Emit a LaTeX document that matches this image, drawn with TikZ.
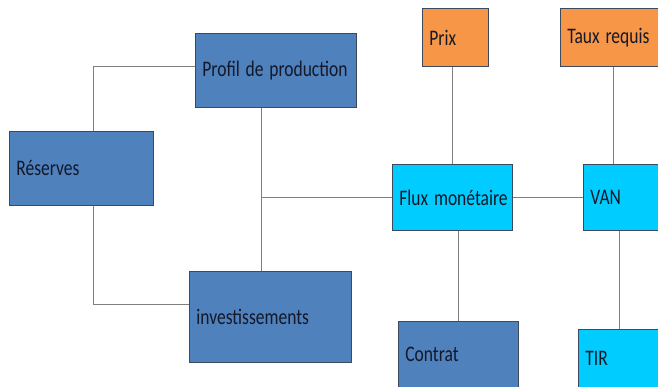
\documentclass[tikz,border=0pt]{standalone}
\usepackage{fontspec}
\setmainfont{Carlito}
\usepackage{graphicx}
\definecolor{bfill}{HTML}{4F81BD}
\definecolor{cfill}{HTML}{00CCFF}
\definecolor{ofill}{HTML}{F79646}
\definecolor{bord}{HTML}{3B4A5E}
\definecolor{linegray}{HTML}{808080}
\definecolor{txt}{HTML}{141828}
\newcommand{\stxt}[1]{\scalebox{1}[1.27]{#1}}
\begin{document}
\begin{tikzpicture}[x=1pt,y=-1pt,
  box/.style={rectangle, draw=bord, line width=0.8pt, anchor=north west, inner xsep=7pt, inner ysep=0pt, align=left, font=\fontsize{17.5}{20}\selectfont, text=txt},
  bluebox/.style={box, fill=bfill},
  cyanbox/.style={box, fill=cfill},
  orangebox/.style={box, fill=ofill},
  conn/.style={draw=linegray, line width=1pt}]
\useasboundingbox (0,0) rectangle (658,387);
\clip (0,0) rectangle (658,387);
\node[bluebox, text width=130pt, minimum height=74pt] (res) at (9,131) {\stxt{Réserves}};
\node[bluebox, text width=147pt, minimum height=74pt] (prof) at (195,33) {\stxt{Profil de production}};
\node[bluebox, text width=148pt, minimum height=91pt] (inv) at (189,271) {\stxt{investissements}};
\node[cyanbox, text width=106pt, minimum height=66pt] (flux) at (392,164) {\stxt{Flux monétaire}};
\node[cyanbox, text width=106pt, minimum height=66pt] (van) at (583,164) {\stxt{VAN}};
\node[orangebox, text width=52pt, minimum height=58pt] (prix) at (422,8) {\stxt{Prix}};
\node[orangebox, text width=106pt, minimum height=58pt] (taux) at (560,8) {\stxt{Taux requis}};
\node[bluebox, text width=106pt, minimum height=66pt] (contrat) at (398,321) {\stxt{Contrat}};
\node[cyanbox, text width=106pt, minimum height=58pt] (tir) at (578,329) {\stxt{TIR}};
\draw[conn] ([xshift=84pt]res.north west) |- ([yshift=4pt]prof.west);
\draw[conn] ([xshift=84pt]res.south west) |- ([yshift=12.5pt]inv.west);
\draw[conn] ([xshift=66pt]prof.south west) coordinate (pj) -- ([xshift=72pt]inv.north west);
\draw[conn] (flux.west) -- (flux.west -| pj);
\draw[conn] (flux.north) -- (flux.north |- prix.south);
\draw[conn] (flux.east) -- (van.west);
\draw[conn] (contrat.north) -- (contrat.north |- flux.south);
\draw[conn] ([xshift=30pt]van.north west) coordinate (vt) -- (vt |- taux.south);
\draw[conn] ([xshift=36pt]van.south west) coordinate (vb) -- (vb |- tir.north);
\end{tikzpicture}
\end{document}
